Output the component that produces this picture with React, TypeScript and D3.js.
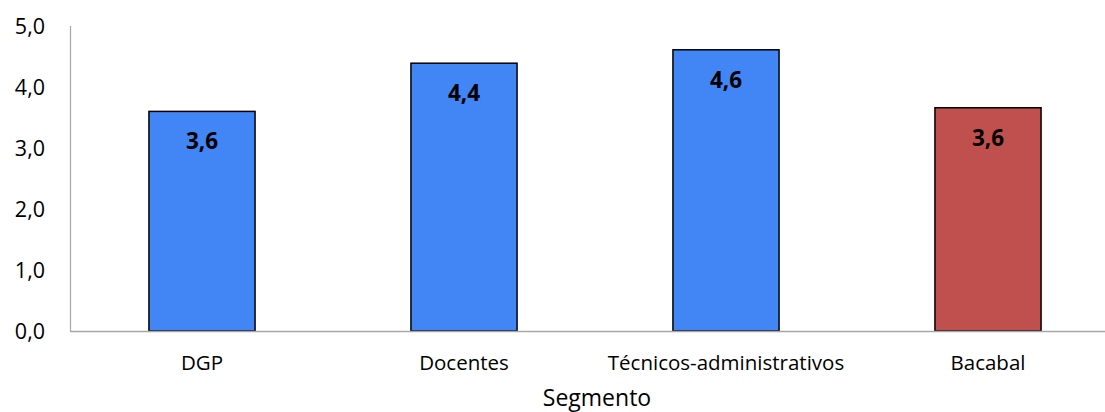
import React from 'react';
import * as d3 from 'd3';

// Chart data
const categories = ['DGP', 'Docentes', 'Técnicos-administrativos', 'Bacabal'];
const values = [3.6, 4.39, 4.61, 3.66];
const valueLabels = ['3,6', '4,4', '4,6', '3,6'];
const barColors = ['#4285F4', '#4285F4', '#4285F4', '#C0504D'];
const yTicks = [0, 1, 2, 3, 4, 5];
const axisTitle = 'Segmento';

const WIDTH = 1105;
const HEIGHT = 412;
const FONT = '"Open Sans", "Liberation Sans", sans-serif';

const ptBR = d3.formatLocale({
  decimal: ',',
  thousands: '.',
  grouping: [3],
  currency: ['R$', ''],
});
const fmt = ptBR.format('.1f');

export default function App() {
  const x = d3
    .scaleBand<string>()
    .domain(categories)
    .range([71, 1119])
    .paddingInner(0.595)
    .paddingOuter(0.2975);

  const y = d3.scaleLinear().domain([0, 5]).range([331, 26]);

  return (
    <svg
      width={WIDTH}
      height={HEIGHT}
      style={{ position: 'absolute', left: 0, top: 0, background: '#fff' }}
      fontFamily={FONT}
    >
      {/* y tick labels */}
      {yTicks.map((t) => (
        <text
          key={t}
          x={45}
          y={y(t)}
          dy="0.36em"
          textAnchor="end"
          fontSize={21.5}
          fill="#000"
        >
          {fmt(t)}
        </text>
      ))}

      {/* bars */}
      {categories.map((c, i) => (
        <rect
          key={c}
          x={x(c)!}
          y={y(values[i])}
          width={x.bandwidth()}
          height={y(0) - y(values[i])}
          fill={barColors[i]}
          stroke="#000"
          strokeWidth={1.5}
        />
      ))}

      {/* axes */}
      <line x1={70.5} x2={70.5} y1={y(5)} y2={y(0)} stroke="#a6a6a6" strokeWidth={1.2} />
      <line x1={70} x2={WIDTH} y1={y(0) + 0.5} y2={y(0) + 0.5} stroke="#a6a6a6" strokeWidth={1.5} />

      {/* value labels */}
      {categories.map((c, i) => (
        <text
          key={c}
          x={x(c)! + x.bandwidth() / 2}
          y={y(values[i]) + 38}
          textAnchor="middle"
          fontSize={22.5}
          fontWeight="bold"
          fill="#000"
        >
          {valueLabels[i]}
        </text>
      ))}

      {/* category labels */}
      {categories.map((c) => (
        <text
          key={c}
          x={x(c)! + x.bandwidth() / 2}
          y={370}
          textAnchor="middle"
          fontSize={20.5}
          fill="#000"
        >
          {c}
        </text>
      ))}

      <text x={597} y={406} textAnchor="middle" fontSize={23} fill="#000">
        {axisTitle}
      </text>
    </svg>
  );
}
